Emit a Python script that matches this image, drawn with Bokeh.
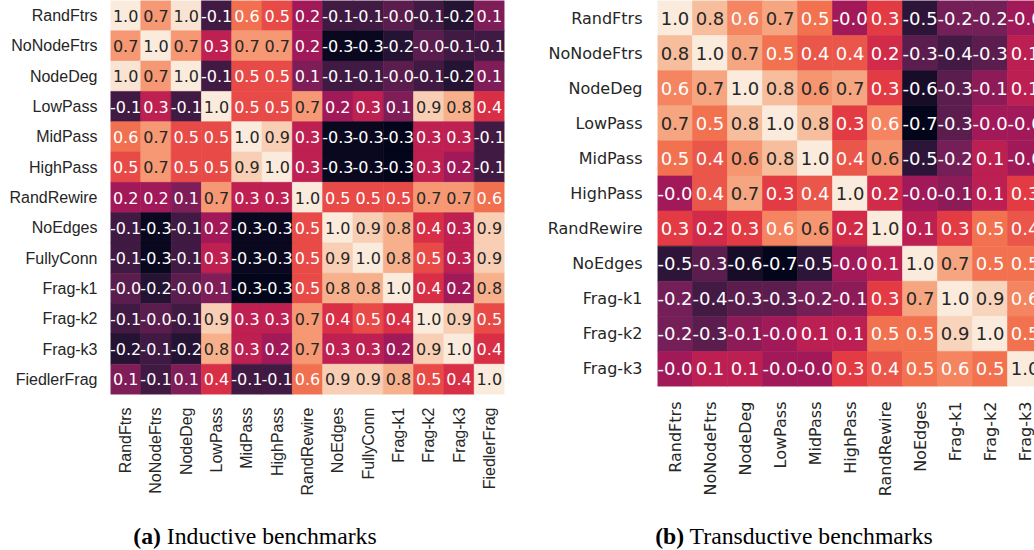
import numpy as np
from bokeh.plotting import figure
from bokeh.models import (ColumnDataSource, LinearColorMapper, FactorRange, Range1d,
                          FixedTicker, CustomJSTickFormatter, Div)
from bokeh.layouts import row, column
from bokeh.embed import file_html
from bokeh.resources import INLINE
from bokeh.core.properties import value
from bokeh.transform import transform

# ---------------- data ----------------
ind_labels = ["RandFtrs", "NoNodeFtrs", "NodeDeg", "LowPass", "MidPass", "HighPass",
              "RandRewire", "NoEdges", "FullyConn", "Frag-k1", "Frag-k2", "Frag-k3",
              "FiedlerFrag"]
ind_values = [
    [1.0, 0.72, 0.97, -0.1, 0.6, 0.5, 0.2, -0.1, -0.1, -0.02, -0.1, -0.2, 0.1],
    [0.72, 1.0, 0.72, 0.3, 0.72, 0.72, 0.2, -0.3, -0.3, -0.2, -0.02, -0.1, -0.1],
    [0.97, 0.72, 1.0, -0.1, 0.5, 0.5, 0.1, -0.1, -0.1, -0.02, -0.1, -0.2, 0.1],
    [-0.1, 0.3, -0.1, 1.0, 0.5, 0.5, 0.72, 0.2, 0.3, 0.1, 0.9, 0.8, 0.4],
    [0.6, 0.72, 0.5, 0.5, 1.0, 0.9, 0.3, -0.3, -0.3, -0.33, 0.3, 0.3, -0.1],
    [0.5, 0.72, 0.5, 0.5, 0.9, 1.0, 0.3, -0.3, -0.3, -0.33, 0.3, 0.2, -0.1],
    [0.2, 0.2, 0.1, 0.72, 0.3, 0.3, 1.0, 0.5, 0.5, 0.5, 0.72, 0.72, 0.6],
    [-0.1, -0.3, -0.1, 0.2, -0.3, -0.3, 0.5, 1.0, 0.9, 0.8, 0.4, 0.3, 0.9],
    [-0.1, -0.3, -0.1, 0.3, -0.3, -0.3, 0.5, 0.9, 1.0, 0.8, 0.5, 0.3, 0.9],
    [-0.02, -0.2, -0.02, 0.1, -0.33, -0.33, 0.5, 0.8, 0.8, 1.0, 0.4, 0.2, 0.8],
    [-0.1, -0.02, -0.1, 0.9, 0.3, 0.3, 0.72, 0.4, 0.5, 0.4, 1.0, 0.9, 0.5],
    [-0.2, -0.1, -0.2, 0.8, 0.3, 0.2, 0.72, 0.3, 0.3, 0.2, 0.9, 1.0, 0.4],
    [0.1, -0.1, 0.1, 0.4, -0.1, -0.1, 0.6, 0.9, 0.9, 0.8, 0.5, 0.4, 1.0],
]

tra_labels = ["RandFtrs", "NoNodeFtrs", "NodeDeg", "LowPass", "MidPass", "HighPass",
              "RandRewire", "NoEdges", "Frag-k1", "Frag-k2", "Frag-k3"]
tra_values = [
    [1.0, 0.8, 0.57, 0.7, 0.5, -0.02, 0.3, -0.5, -0.2, -0.2, -0.02],
    [0.8, 1.0, 0.7, 0.5, 0.4, 0.4, 0.2, -0.3, -0.4, -0.3, 0.1],
    [0.57, 0.7, 1.0, 0.8, 0.64, 0.7, 0.3, -0.6, -0.3, -0.1, 0.1],
    [0.7, 0.5, 0.8, 1.0, 0.8, 0.3, 0.57, -0.7, -0.3, -0.02, -0.02],
    [0.5, 0.4, 0.64, 0.8, 1.0, 0.4, 0.64, -0.5, -0.2, 0.1, -0.02],
    [-0.02, 0.4, 0.7, 0.3, 0.4, 1.0, 0.2, -0.02, -0.1, 0.1, 0.3],
    [0.3, 0.2, 0.3, 0.57, 0.64, 0.2, 1.0, 0.1, 0.3, 0.5, 0.4],
    [-0.5, -0.3, -0.6, -0.7, -0.5, -0.02, 0.1, 1.0, 0.7, 0.5, 0.5],
    [-0.2, -0.4, -0.3, -0.3, -0.2, -0.1, 0.3, 0.7, 1.0, 0.9, 0.57],
    [-0.2, -0.3, -0.1, -0.02, 0.1, 0.1, 0.5, 0.5, 0.9, 1.0, 0.5],
    [-0.02, 0.1, 0.1, -0.02, -0.02, 0.3, 0.4, 0.5, 0.57, 0.5, 1.0],
]

captions = [("(a)", "Inductive benchmarks"), ("(b)", "Transductive benchmarks")]

# ---------------- rocket colormap (approximation) ----------------
rocket_anchors = [
    (0.0, (3, 5, 26)), (1 / 7, (53, 25, 62)), (2 / 7, (112, 31, 87)),
    (3 / 7, (173, 23, 89)), (4 / 7, (225, 51, 66)), (5 / 7, (243, 118, 81)),
    (6 / 7, (246, 180, 143)), (1.0, (250, 235, 221)),
]


def build_palette(n=256):
    pos = np.array([a[0] for a in rocket_anchors])
    cols = np.array([a[1] for a in rocket_anchors], dtype=float)
    t = np.linspace(0, 1, n)
    rgb = np.stack([np.interp(t, pos, cols[:, k]) for k in range(3)], axis=1)
    return ["#%02x%02x%02x" % tuple(int(round(c)) for c in c3) for c3 in rgb]


palette = build_palette()


def lum(hexc):
    r, g, b = (int(hexc[i:i + 2], 16) / 255 for i in (1, 3, 5))
    lin = [c / 12.92 if c <= 0.03928 else ((c + 0.055) / 1.055) ** 2.4 for c in (r, g, b)]
    return 0.2126 * lin[0] + 0.7152 * lin[1] + 0.0722 * lin[2]


def make_source(labels, vals, numeric_x):
    arr = np.array(vals, dtype=float)
    low, high = arr.min(), arr.max()
    xs, ys, vs, txt, tc = [], [], [], [], []
    n = len(labels)
    for i in range(n):
        for j in range(n):
            v = arr[i, j]
            xs.append(j + 0.5 if numeric_x else labels[j])
            ys.append(labels[i])
            vs.append(v)
            txt.append(format(v, ".1f"))
            idx = int(np.clip((v - low) / (high - low) * len(palette), 0, len(palette) - 1))
            tc.append("#262626" if lum(palette[idx]) > 0.408 else "#ffffff")
    src = ColumnDataSource(dict(x=xs, y=ys, v=vs, label=txt, tc=tc))
    mapper = LinearColorMapper(palette=palette, low=low, high=high)
    return src, mapper


def style_axes(p, font, standoff_x, standoff_y):
    for ax in (p.xaxis[0], p.yaxis[0]):
        ax.axis_line_color = None
        ax.major_tick_line_color = None
        ax.minor_tick_line_color = None
        ax.major_tick_out = 0
        ax.major_tick_in = 0
        ax.minor_tick_out = 0
        ax.minor_tick_in = 0
        ax.major_label_text_font = font
        ax.major_label_text_font_size = "16px"
        ax.major_label_text_color = "#262626"
    p.xaxis.major_label_orientation = np.pi / 2
    p.xaxis.major_label_standoff = standoff_x
    p.yaxis.major_label_standoff = standoff_y
    p.grid.visible = False
    p.outline_line_color = None


H = 519

# ---------------- left: inductive ----------------
src1, map1 = make_source(ind_labels, ind_values, numeric_x=False)
p1 = figure(width=527, height=H, x_range=FactorRange(*ind_labels),
            y_range=FactorRange(*reversed(ind_labels)), output_backend="svg",
            toolbar_location=None, min_border_left=110, min_border_right=23,
            min_border_top=0, min_border_bottom=H - 394)
p1.rect(x="x", y="y", width=1, height=1, source=src1,
        fill_color=transform("v", map1), line_color=transform("v", map1), line_width=0.6)
p1.text(x="x", y="y", text="label", text_color="tc", source=src1, text_align="center",
        text_baseline="middle", text_font=value("DejaVu Sans"), text_font_size="16px")
style_axes(p1, "Liberation Sans", 13, 13)

# ---------------- right: transductive ----------------
src2, map2 = make_source(tra_labels, tra_values, numeric_x=True)
p2 = figure(width=507, height=H, x_range=Range1d(0, 10.77),
            y_range=FactorRange(*reversed(tra_labels)), output_backend="svg",
            toolbar_location=None, min_border_left=130, min_border_right=0,
            min_border_top=0, min_border_bottom=H - 386)
p2.rect(x="x", y="y", width=1, height=1, source=src2,
        fill_color=transform("v", map2), line_color=transform("v", map2), line_width=0.6)
p2.text(x="x", y="y", text="label", text_color="tc", source=src2, text_align="center",
        text_baseline="middle", text_font=value("DejaVu Sans"), text_font_size="18px")
p2.xaxis.ticker = FixedTicker(ticks=[i + 0.5 for i in range(len(tra_labels))])
p2.xaxis.formatter = CustomJSTickFormatter(args=dict(labels=tra_labels),
                                           code="return labels[Math.floor(tick)] || '';")
style_axes(p2, "DejaVu Sans", 15, 15)

cap_style = {"font-family": "Liberation Serif", "font-size": "23.7px", "text-align": "center",
             "line-height": "28px", "color": "#000000"}
d1 = Div(text="<b>%s</b> %s" % captions[0], width=510, height=28, styles=cap_style,
         margin=(3, 0, 0, 0))
d2 = Div(text="<b>%s</b> %s" % captions[1], width=464, height=28, styles=cap_style,
         margin=(3, 0, 0, 35))

layout = row(column(p1, d1), column(p2, d2))

open("out.html", "w").write(file_html(layout, INLINE))
